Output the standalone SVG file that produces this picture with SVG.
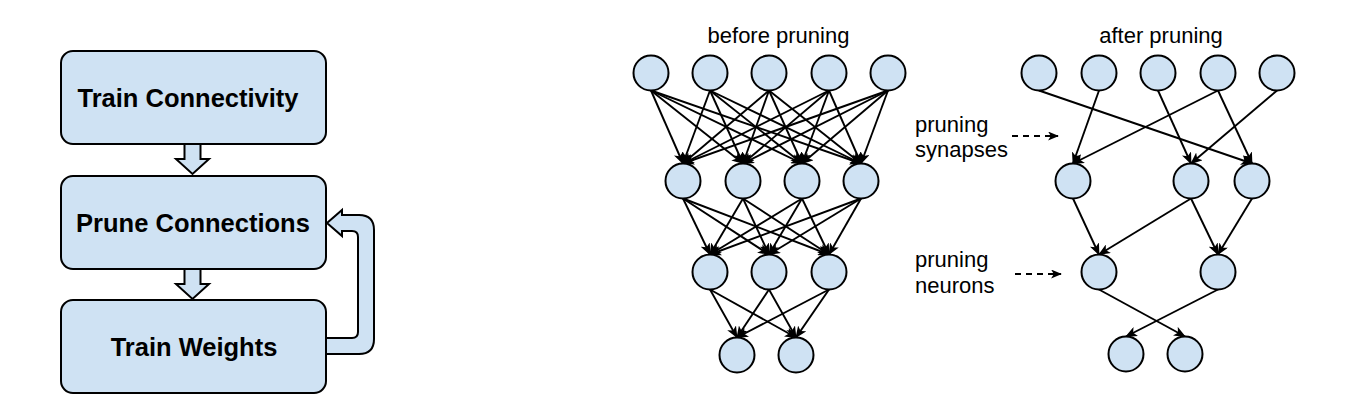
<svg xmlns="http://www.w3.org/2000/svg" width="1359" height="418" viewBox="0 0 1359 418">
<style>
.box{fill:#cfe2f3;stroke:#000;stroke-width:2}
.blk{fill:#cfe2f3;stroke:#000;stroke-width:2;stroke-linejoin:miter}
.bt{font-family:"Liberation Sans",Arial,sans-serif;font-weight:bold;font-size:25.5px;fill:#000;text-anchor:middle}
.lt{font-family:"Liberation Sans",Arial,sans-serif;font-size:22px;fill:#000}
.n{fill:#cfe2f3;stroke:#000;stroke-width:2}
.e line{stroke:#000;stroke-width:1.9;marker-end:url(#ah)}
.d{stroke:#000;stroke-width:2;stroke-dasharray:6,5;marker-end:url(#ah2)}
</style>
<defs>
<marker id="ah" viewBox="0 0 12 10" markerWidth="12" markerHeight="10" refX="11" refY="5" orient="auto" markerUnits="userSpaceOnUse">
<path d="M0,0 L12,5 L0,10 L3,5 Z" fill="#000"/>
</marker>
<marker id="ah2" viewBox="0 0 12 10" markerWidth="11" markerHeight="9" refX="11" refY="5" orient="auto" markerUnits="userSpaceOnUse">
<path d="M0,0 L12,5 L0,10 L3,5 Z" fill="#000"/>
</marker>
</defs>
<rect width="1359" height="418" fill="#fff"/>

<g id="connectors">
<g id="flow-arrows">
<path class="blk" d="M184.5,143 L200.5,143 L200.5,159 L209,159 L192.5,174 L176,159 L184.5,159 Z"/>
<path class="blk" d="M184.5,268 L200.5,268 L200.5,284 L209,284 L192.5,299 L176,284 L184.5,284 Z"/>
<path class="blk" d="M318,338 L352,338 Q358,338 358,332 L358,237 Q358,231 352,231 L342,231 L342,236 L327,223 L342,210 L342,215 L359,215 Q374,215 374,230 L374,339 Q374,354 359,354 L318,354 Z"/>
</g>
<g class="e" id="before-edges">
<line x1="651" y1="90.5" x2="683" y2="163.5"/><line x1="651" y1="90.5" x2="743" y2="163.5"/><line x1="651" y1="90.5" x2="802" y2="163.5"/><line x1="651" y1="90.5" x2="861" y2="163.5"/>
<line x1="710" y1="90.5" x2="683" y2="163.5"/><line x1="710" y1="90.5" x2="743" y2="163.5"/><line x1="710" y1="90.5" x2="802" y2="163.5"/><line x1="710" y1="90.5" x2="861" y2="163.5"/>
<line x1="769" y1="90.5" x2="683" y2="163.5"/><line x1="769" y1="90.5" x2="743" y2="163.5"/><line x1="769" y1="90.5" x2="802" y2="163.5"/><line x1="769" y1="90.5" x2="861" y2="163.5"/>
<line x1="829" y1="90.5" x2="683" y2="163.5"/><line x1="829" y1="90.5" x2="743" y2="163.5"/><line x1="829" y1="90.5" x2="802" y2="163.5"/><line x1="829" y1="90.5" x2="861" y2="163.5"/>
<line x1="888" y1="90.5" x2="683" y2="163.5"/><line x1="888" y1="90.5" x2="743" y2="163.5"/><line x1="888" y1="90.5" x2="802" y2="163.5"/><line x1="888" y1="90.5" x2="861" y2="163.5"/>
<line x1="683" y1="198.5" x2="710" y2="254.5"/><line x1="683" y1="198.5" x2="769" y2="254.5"/><line x1="683" y1="198.5" x2="829" y2="254.5"/>
<line x1="743" y1="198.5" x2="710" y2="254.5"/><line x1="743" y1="198.5" x2="769" y2="254.5"/><line x1="743" y1="198.5" x2="829" y2="254.5"/>
<line x1="802" y1="198.5" x2="710" y2="254.5"/><line x1="802" y1="198.5" x2="769" y2="254.5"/><line x1="802" y1="198.5" x2="829" y2="254.5"/>
<line x1="861" y1="198.5" x2="710" y2="254.5"/><line x1="861" y1="198.5" x2="769" y2="254.5"/><line x1="861" y1="198.5" x2="829" y2="254.5"/>
<line x1="710" y1="289.5" x2="737" y2="337.5"/><line x1="710" y1="289.5" x2="796" y2="337.5"/>
<line x1="769" y1="289.5" x2="737" y2="337.5"/><line x1="769" y1="289.5" x2="796" y2="337.5"/>
<line x1="829" y1="289.5" x2="737" y2="337.5"/><line x1="829" y1="289.5" x2="796" y2="337.5"/>
</g>
<g class="e" id="after-edges">
<line x1="1039" y1="90.5" x2="1252" y2="163.5"/>
<line x1="1099" y1="90.5" x2="1073" y2="163.5"/>
<line x1="1158" y1="90.5" x2="1191" y2="163.5"/>
<line x1="1218" y1="90.5" x2="1073" y2="163.5"/>
<line x1="1218" y1="90.5" x2="1252" y2="163.5"/>
<line x1="1277" y1="90.5" x2="1191" y2="163.5"/>
<line x1="1073" y1="198.5" x2="1099" y2="254.5"/>
<line x1="1191" y1="198.5" x2="1099" y2="254.5"/>
<line x1="1191" y1="198.5" x2="1218" y2="254.5"/>
<line x1="1252" y1="198.5" x2="1218" y2="254.5"/>
<line x1="1099" y1="289.5" x2="1185" y2="336.5"/>
<line x1="1218" y1="289.5" x2="1126" y2="336.5"/>
</g>
<g id="label-arrows">
<line class="d" x1="1012" y1="136" x2="1058" y2="136"/>
<line class="d" x1="1015" y1="274" x2="1061" y2="274"/>
</g>
</g>

<g id="train-connectivity"><rect class="box" x="61" y="51" width="265" height="93" rx="12"/><text class="bt" x="188" y="107">Train Connectivity</text></g>
<g id="prune-connections"><rect class="box" x="61" y="176" width="265" height="93" rx="12"/><text class="bt" x="193" y="232">Prune Connections</text></g>
<g id="train-weights"><rect class="box" x="61" y="300" width="265" height="93" rx="12"/><text class="bt" x="194" y="356">Train Weights</text></g>

<text class="lt" x="778.5" y="43" text-anchor="middle">before pruning</text>
<text class="lt" x="1161" y="43" text-anchor="middle">after pruning</text>
<text class="lt" x="915" y="132">pruning</text>
<text class="lt" x="915" y="157">synapses</text>
<text class="lt" x="915" y="267">pruning</text>
<text class="lt" x="915" y="293">neurons</text>

<g id="before-l1">
<g id="b1-1"><circle class="n" cx="651" cy="73" r="17.5"/></g>
<g id="b1-2"><circle class="n" cx="710" cy="73" r="17.5"/></g>
<g id="b1-3"><circle class="n" cx="769" cy="73" r="17.5"/></g>
<g id="b1-4"><circle class="n" cx="829" cy="73" r="17.5"/></g>
<g id="b1-5"><circle class="n" cx="888" cy="73" r="17.5"/></g>
</g>
<g id="before-l2">
<g id="b2-1"><circle class="n" cx="683" cy="181" r="17.5"/></g>
<g id="b2-2"><circle class="n" cx="743" cy="181" r="17.5"/></g>
<g id="b2-3"><circle class="n" cx="802" cy="181" r="17.5"/></g>
<g id="b2-4"><circle class="n" cx="861" cy="181" r="17.5"/></g>
</g>
<g id="before-l3">
<g id="b3-1"><circle class="n" cx="710" cy="272" r="17.5"/></g>
<g id="b3-2"><circle class="n" cx="769" cy="272" r="17.5"/></g>
<g id="b3-3"><circle class="n" cx="829" cy="272" r="17.5"/></g>
</g>
<g id="before-l4">
<g id="b4-1"><circle class="n" cx="737" cy="355" r="17.5"/></g>
<g id="b4-2"><circle class="n" cx="796" cy="355" r="17.5"/></g>
</g>
<g id="after-l1">
<g id="a1-1"><circle class="n" cx="1039" cy="73" r="17.5"/></g>
<g id="a1-2"><circle class="n" cx="1099" cy="73" r="17.5"/></g>
<g id="a1-3"><circle class="n" cx="1158" cy="73" r="17.5"/></g>
<g id="a1-4"><circle class="n" cx="1218" cy="73" r="17.5"/></g>
<g id="a1-5"><circle class="n" cx="1277" cy="73" r="17.5"/></g>
</g>
<g id="after-l2">
<g id="a2-1"><circle class="n" cx="1073" cy="181" r="17.5"/></g>
<g id="a2-2"><circle class="n" cx="1191" cy="181" r="17.5"/></g>
<g id="a2-3"><circle class="n" cx="1252" cy="181" r="17.5"/></g>
</g>
<g id="after-l3">
<g id="a3-1"><circle class="n" cx="1099" cy="272" r="17.5"/></g>
<g id="a3-2"><circle class="n" cx="1218" cy="272" r="17.5"/></g>
</g>
<g id="after-l4">
<g id="a4-1"><circle class="n" cx="1126" cy="354" r="17.5"/></g>
<g id="a4-2"><circle class="n" cx="1185" cy="354" r="17.5"/></g>
</g>
</svg>
